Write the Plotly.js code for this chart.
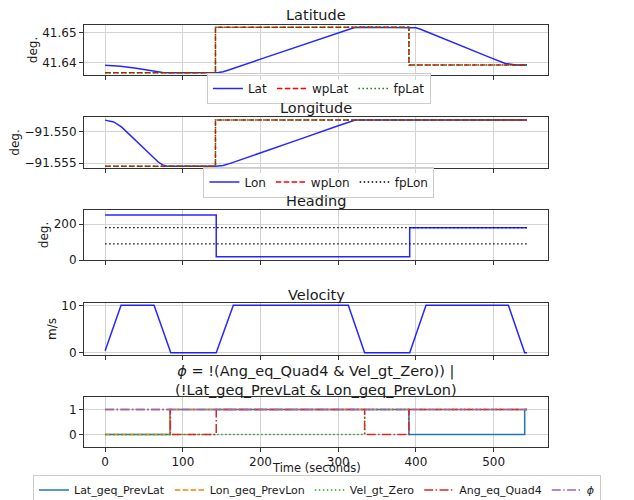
<!DOCTYPE html>
<html>
<head>
<meta charset="utf-8">
<script src="https://cdn.plot.ly/plotly-3.0.1.min.js"></script>
<style>html,body{margin:0;padding:0;background:#fff;}</style>
</head>
<body>
<div id="chart" style="width:634px;height:500px;"></div>
<script>
// ---------- data ----------
const tLat = [0, 20, 40, 60, 74, 84, 142, 146, 152, 160, 200, 250, 300, 312, 320, 328, 395, 400, 406, 440, 495, 515, 522, 528, 543];
const lat  = [41.6392, 41.6389, 41.6382, 41.6373, 41.6368, 41.6367, 41.6367, 41.6368, 41.6371, 41.6377, 41.6412, 41.6455, 41.6499, 41.6509, 41.6515, 41.6517, 41.6517, 41.6515, 41.6510, 41.6474, 41.6418, 41.6398, 41.6394, 41.6393, 41.6393];
const tWpLat = [0, 142, 391, 543];
const wpLat  = [41.6367, 41.6517, 41.6393, 41.6393];
const fpLat  = [41.6367, 41.6517, 41.6393, 41.6393];

const tLon = [0, 5, 11, 21, 40, 68, 74, 80, 142, 146, 152, 160, 200, 250, 300, 315, 322, 330, 543];
const lon  = [-91.5481, -91.5482, -91.5484, -91.5492, -91.5515, -91.5548, -91.5553, -91.5555, -91.5555, -91.5555, -91.5554, -91.5551, -91.5534, -91.5512, -91.5490, -91.5483, -91.5481, -91.5481, -91.5481];
const tWpLon = [0, 142, 543];
const wpLon  = [-91.5555, -91.5481, -91.5481];
const fpLon  = [-91.5555, -91.5481, -91.5481];

const tHead = [0, 143, 392, 543];
const heading = [250, 18, 180, 180];
const tRef = [0, 543];
const headRefA = [180, 180];
const headRefB = [90, 90];

const tVel = [0, 20.5, 63, 84.5, 143, 165, 313, 334, 392, 413, 519, 540, 543];
const vel  = [0.4, 10, 10, 0, 0, 10, 10, 0, 0, 10, 10, 0, 0];

const tLatGeq = [0, 83.5, 391, 540, 543];
const latGeq  = [0, 1, 0, 1, 1];
const tLonGeq = [0, 83.5, 543];
const lonGeq  = [0, 1, 1];
const tVelGt  = [0, 334, 543];
const velGt   = [0, 1, 1];
const tAng    = [0, 84, 143, 334, 391, 543];
const angEq   = [1, 0, 1, 0, 1, 1];
const tPhi    = [0, 543];
const phi     = [1, 1];

const xTicks = [0, 100, 200, 300, 400, 500];

// ---------- styles ----------
const FONT = 'DejaVu Sans';
const DASH = '5.5px,2.4px';
const DOT = '1.5px,2.5px';
const DASHDOT = '9px,2.4px,1.5px,2.4px';
const LW = 1.5;
const BLUE = 'rgba(0,0,255,0.85)';

const traces = [
  {x: tLat, y: lat, name: 'Lat', mode: 'lines', line: {color: BLUE, width: LW}, xaxis: 'x', yaxis: 'y', legend: 'legend'},
  {x: tWpLat, y: wpLat, name: 'wpLat', mode: 'lines', line: {color: '#ff0000', width: LW, dash: DASH, shape: 'hv'}, xaxis: 'x', yaxis: 'y', legend: 'legend'},
  {x: tWpLat, y: fpLat, name: 'fpLat', mode: 'lines', line: {color: '#008000', width: LW, dash: DOT, shape: 'hv'}, xaxis: 'x', yaxis: 'y', legend: 'legend'},

  {x: tLon, y: lon, name: 'Lon', mode: 'lines', line: {color: BLUE, width: LW}, xaxis: 'x2', yaxis: 'y2', legend: 'legend2'},
  {x: tWpLon, y: wpLon, name: 'wpLon', mode: 'lines', line: {color: '#ff0000', width: LW, dash: DASH, shape: 'hv'}, xaxis: 'x2', yaxis: 'y2', legend: 'legend2'},
  {x: tWpLon, y: fpLon, name: 'fpLon', mode: 'lines', showlegend: false, line: {color: '#008000', width: LW, dash: DOT, shape: 'hv'}, xaxis: 'x2', yaxis: 'y2', legend: 'legend2'},
  {x: [null], y: [null], name: 'fpLon', mode: 'lines', line: {color: '#000000', width: LW, dash: DOT}, xaxis: 'x2', yaxis: 'y2', legend: 'legend2'},

  {x: tRef, y: headRefA, mode: 'lines', showlegend: false, line: {color: '#000000', width: 1.2, dash: DOT}, xaxis: 'x3', yaxis: 'y3'},
  {x: tRef, y: headRefB, mode: 'lines', showlegend: false, line: {color: '#000000', width: 1.2, dash: DOT}, xaxis: 'x3', yaxis: 'y3'},
  {x: tHead, y: heading, mode: 'lines', showlegend: false, line: {color: BLUE, width: LW, shape: 'hv'}, xaxis: 'x3', yaxis: 'y3'},

  {x: tVel, y: vel, mode: 'lines', showlegend: false, line: {color: BLUE, width: LW}, xaxis: 'x4', yaxis: 'y4'},

  {x: tLatGeq, y: latGeq, name: 'Lat_geq_PrevLat', mode: 'lines', line: {color: '#1f77b4', width: LW, shape: 'hv'}, xaxis: 'x5', yaxis: 'y5', legend: 'legend3'},
  {x: tLonGeq, y: lonGeq, name: 'Lon_geq_PrevLon', mode: 'lines', line: {color: '#ff7f0e', width: LW, dash: DASH, shape: 'hv'}, xaxis: 'x5', yaxis: 'y5', legend: 'legend3'},
  {x: tVelGt, y: velGt, name: 'Vel_gt_Zero', mode: 'lines', line: {color: '#2ca02c', width: LW, dash: DOT, shape: 'hv'}, xaxis: 'x5', yaxis: 'y5', legend: 'legend3'},
  {x: tAng, y: angEq, name: 'Ang_eq_Quad4', mode: 'lines', line: {color: '#d62728', width: LW, dash: DASHDOT, shape: 'hv'}, xaxis: 'x5', yaxis: 'y5', legend: 'legend3'},
  {x: tPhi, y: phi, name: '<i>ϕ</i>', mode: 'lines', line: {color: '#9467bd', width: LW, dash: DASHDOT, shape: 'hv'}, xaxis: 'x5', yaxis: 'y5', legend: 'legend3'}
];

const XDOM = [84 / 634, 548 / 634];
const XRANGE = [-27.2, 570];
function yd(topPx, botPx) { return [1 - botPx / 500, 1 - topPx / 500]; }

const axBase = {
  showline: true, mirror: true, linecolor: '#333333', linewidth: 1,
  ticks: 'outside', ticklen: 4, tickwidth: 1, tickcolor: '#333333',
  showgrid: true, gridcolor: '#d3d3d3', gridwidth: 1, zeroline: false,
  tickfont: {family: FONT, size: 12, color: '#1a1a1a'}
};
function xa(anchor, labels) {
  return Object.assign({}, axBase, {domain: XDOM, range: XRANGE, anchor: anchor, tickvals: xTicks, showticklabels: labels});
}
function ya(anchor, dom, range, tv, tt, title) {
  const o = Object.assign({}, axBase, {domain: dom, range: range, anchor: anchor, tickvals: tv});
  if (tt) o.ticktext = tt;
  if (title) {
    o.title = {text: title, font: {family: FONT, size: 12, color: '#1a1a1a'}, standoff: 2};
  }
  return o;
}

const legBase = {
  orientation: 'h', xanchor: 'center', yanchor: 'middle',
  bgcolor: 'rgba(255,255,255,0.8)', bordercolor: '#cccccc', borderwidth: 1,
  font: {family: FONT, size: 12, color: '#1a1a1a'}
};

function ann(text, yPx, size) {
  return {text: text, xref: 'paper', yref: 'paper', x: (84 + 548) / 2 / 634, y: 1 - yPx / 500,
          xanchor: 'center', yanchor: 'middle', showarrow: false,
          font: {family: FONT, size: size, color: '#1a1a1a'}};
}

const layout = {
  width: 634, height: 500,
  margin: {l: 0, r: 0, t: 0, b: 0, pad: 0, autoexpand: false},
  paper_bgcolor: '#ffffff', plot_bgcolor: '#ffffff',
  font: {family: FONT, size: 12, color: '#1a1a1a'},
  showlegend: true,
  legend: Object.assign({}, legBase, {x: 0.503, y: 1 - 88.5 / 500}),
  legend2: Object.assign({}, legBase, {x: 0.503, y: 1 - 182 / 500}),
  legend3: Object.assign({}, legBase, {x: 0.5, y: 1 - 490 / 500, font: {family: FONT, size: 11, color: '#1a1a1a'}}),
  xaxis: xa('y', false),
  yaxis: ya('x', yd(25, 75), [41.6360, 41.6524], [41.64, 41.65], ['41.64', '41.65'], 'deg.'),
  xaxis2: xa('y2', false),
  yaxis2: ya('x2', yd(117, 168), [-91.5558, -91.5476], [-91.555, -91.550], ['\u221291.555', '\u221291.550'], 'deg.'),
  xaxis3: xa('y3', false),
  yaxis3: ya('x3', yd(210, 260), [0, 278], [0, 200], null, 'deg.'),
  xaxis4: xa('y4', false),
  yaxis4: ya('x4', yd(303, 355), [-0.5, 10.5], [0, 10], null, 'm/s'),
  xaxis5: xa('y5', true),
  yaxis5: ya('x5', yd(397, 447), [-0.5, 1.5], [0, 1], null, null),
  annotations: [
    ann('Latitude', 15, 14.5),
    ann('Longitude', 108, 14.5),
    ann('Heading', 201, 14.5),
    ann('Velocity', 295, 14.5),
    ann('<i>ϕ</i> = !(Ang_eq_Quad4 &amp; Vel_gt_Zero)) |<br>(!Lat_geq_PrevLat &amp; Lon_geq_PrevLon)', 380, 14.5),
    ann('Time (seconds)', 468, 11.5)
  ]
};

Plotly.newPlot('chart', traces, layout, {staticPlot: true, displayModeBar: false});
</script>
</body>
</html>
